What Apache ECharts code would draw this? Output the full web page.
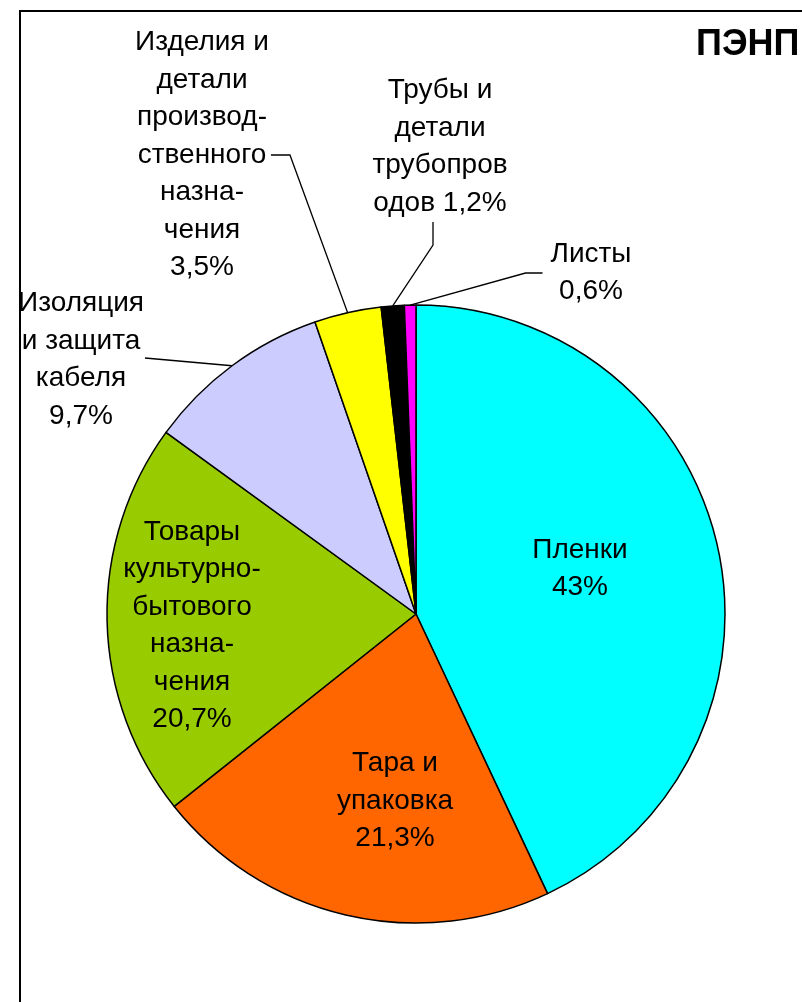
<!DOCTYPE html>
<html>
<head>
<meta charset="utf-8">
<script src="https://cdn.jsdelivr.net/npm/echarts@6/dist/echarts.min.js"></script>
<style>
html,body{margin:0;padding:0;background:#fff;}
#chart{width:802px;height:1002px;}
</style>
</head>
<body>
<div id="chart"></div>
<script>
// ---- data ----
const title = 'ПЭНП';
const categories = [
  'Пленки',
  'Тара и упаковка',
  'Товары культурно-бытового назначения',
  'Изоляция и защита кабеля',
  'Изделия и детали производственного назначения',
  'Трубы и детали трубопроводов',
  'Листы'
];
const values = [43, 21.3, 20.7, 9.7, 3.5, 1.2, 0.6];
const labelLines = [
  'Пленки',
  'Тара и\nупаковка',
  'Товары\nкультурно-\nбытового\nназна-\nчения',
  'Изоляция\nи защита\nкабеля',
  'Изделия и\nдетали\nпроизвод-\nственного\nназна-\nчения',
  'Трубы и\nдетали\nтрубопров\nодов',
  'Листы'
];
const valueSep = ['\n', '\n', '\n', '\n', '\n', ' ', '\n'];
const colors = ['#00FFFF', '#FF6600', '#99CC00', '#CCCCFF', '#FFFF00', '#000000', '#FF00FF'];

// ---- label layout (positions of text blocks, not marks) ----
const labelSpec = [
  {x: 580, y: 569},
  {x: 395, y: 801},
  {x: 192, y: 626},
  {x: 81, y: 360, side: 'right', gap: 1, elbow: 0, off: -2},
  {x: 202, y: 155, side: 'right', gap: 2, elbow: 19, off: 0},
  {x: 440, y: 147, side: 'bottom', gap: 0, elbow: 23, off: -7},
  {x: 591, y: 273, side: 'left', gap: 8, elbow: 17, off: 0}
];

const FONT = '"Liberation Sans", Arial, sans-serif';

const chart = echarts.init(document.getElementById('chart'), null, {renderer: 'canvas'});

const seriesData = categories.map((name, i) => ({
  name: name,
  value: values[i],
  itemStyle: {color: colors[i]},
  labelLine: {show: !!labelSpec[i].side}
}));

function fmt(v) { return String(v).replace('.', ','); }

const option = {
  animation: false,
  backgroundColor: '#ffffff',
  title: {
    text: title,
    left: 696,
    top: 27,
    padding: 0,
    textStyle: {fontFamily: FONT, fontSize: 36, lineHeight: 36, fontWeight: 'bold', color: '#000'}
  },
  graphic: [{
    type: 'rect',
    silent: true,
    shape: {x: 20, y: 11, width: 1000, height: 1100},
    style: {fill: 'none', stroke: '#000', lineWidth: 2}
  }],
  series: [{
    type: 'pie',
    center: [416, 614],
    radius: 309,
    startAngle: 90,
    clockwise: true,
    avoidLabelOverlap: false,
    data: seriesData,
    itemStyle: {borderColor: '#000', borderWidth: 1.5},
    label: {
      show: true,
      position: 'outside',
      fontFamily: FONT,
      fontSize: 28,
      lineHeight: 37.5,
      color: '#000',
      formatter: p => labelLines[p.dataIndex] + valueSep[p.dataIndex] + fmt(p.value) + '%'
    },
    labelLine: {
      show: true,
      length: 10,
      length2: 10,
      lineStyle: {color: '#000', width: 1.3}
    },
    labelLayout: function (params) {
      const s = labelSpec[params.dataIndex];
      const res = {x: s.x, y: s.y, align: 'center', verticalAlign: 'middle'};
      if (s.side && params.labelLinePoints && params.labelRect) {
        const edge = params.labelLinePoints[0];
        const w = params.labelRect.width, h = params.labelRect.height;
        let end, bend;
        if (s.side === 'right') {
          end = [s.x + w / 2 + s.gap, s.y + s.off];
          bend = [end[0] + s.elbow, end[1]];
        } else if (s.side === 'left') {
          end = [s.x - w / 2 - s.gap, s.y + s.off];
          bend = [end[0] - s.elbow, end[1]];
        } else {
          end = [s.x + s.off, s.y + h / 2 + s.gap];
          bend = [end[0], end[1] + s.elbow];
        }
        res.labelLinePoints = [edge, bend, end];
      }
      return res;
    }
  }]
};
chart.setOption(option);
</script>
</body>
</html>
